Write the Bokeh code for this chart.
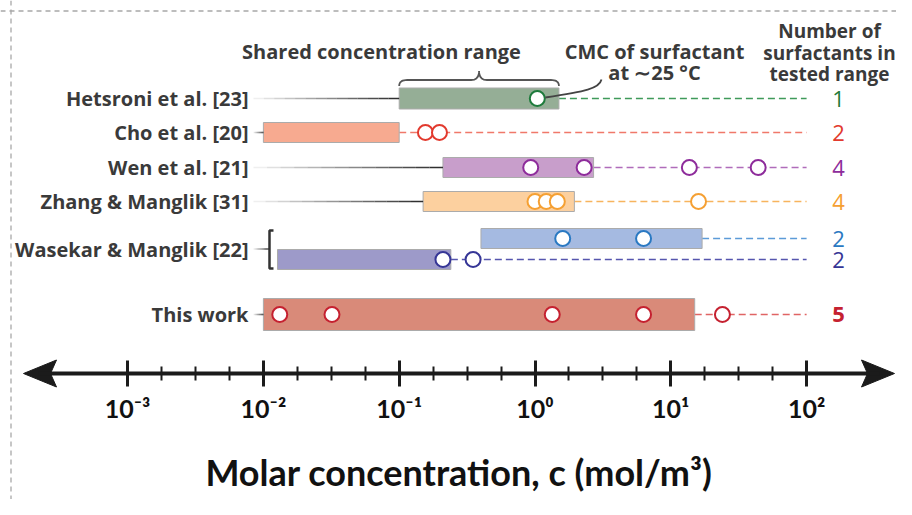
import numpy as np
from bokeh.plotting import figure
from bokeh.models import Range1d, LogAxis, FixedTicker, Span
from bokeh.core.properties import value
from bokeh.embed import file_html
from bokeh.resources import INLINE

# ---------------- data ----------------
studies = ["Hetsroni et al. [23]", "Cho et al. [20]", "Wen et al. [21]",
           "Zhang & Manglik [31]", "Wasekar & Manglik [22]",
           "Wasekar & Manglik [22]", "This work"]
range_low = [0.10, 0.010, 0.21, 0.15, 0.40, 0.0127, 0.010]
range_high = [1.5, 0.10, 2.7, 1.95, 17.0, 0.24, 15.0]
cmc_hetsroni = [1.04]
cmc_cho = [0.156, 0.198]
cmc_wen = [0.93, 2.3, 13.7, 44.0]
cmc_zhang = [1.0, 1.21, 1.46, 16.0]
cmc_wasekar_a = [1.6, 6.3]
cmc_wasekar_b = [0.21, 0.35]
cmc_this_work = [0.0132, 0.032, 1.34, 6.3, 24.0]
cmc_groups = [cmc_hetsroni, cmc_cho, cmc_wen, cmc_zhang,
              cmc_wasekar_a, cmc_wasekar_b, cmc_this_work]
n_surfactants = [1, 2, 4, 4, 2, 2, 5]
tick_values = [1e-3, 1e-2, 1e-1, 1e0, 1e1, 1e2]
tick_labels = ["10⁻³", "10⁻²", "10⁻¹", "10⁰", "10¹", "10²"]
tested_upper = 100.0

# ---------------- styles / layout ----------------
bar_fill = ["#95AE96", "#F7AA90", "#C89ECB", "#FCD09F", "#A5BAE1", "#9D9AC9", "#D98A79"]
mark_color = ["#1E7B3C", "#E23A2E", "#8E2C9B", "#F5A033", "#2A79C2", "#363696", "#C52130"]
dash_color = ["#3F9A5A", "#F0786A", "#B06CBA", "#F7B45E", "#5C9BD8", "#5656AE", "#E06464"]
row_y = [98, 132, 167, 201, 238, 259, 314]
bar_h = [21, 20, 20, 20, 20, 20, 32]

W, H = 896, 499
DPX = 135.8                        # pixels per decade
X0 = -3 - 127.1 / DPX              # log10 at left edge
X1 = X0 + W / DPX                  # log10 at right edge


def xpix(px):
    """horizontal pixel -> data x"""
    return 10 ** (X0 + px / DPX)


def shift(x, dpx):
    return 10 ** (np.log10(x) + dpx / DPX)


TXT = "#3a3a3a"
FONT = value("Open Sans")

p = figure(width=W, height=H, x_axis_type="log",
           x_range=Range1d(10 ** X0, 10 ** X1), y_range=Range1d(H, 0),
           x_axis_location=None, y_axis_location=None,
           toolbar_location=None, output_backend="svg", min_border=0,
           outline_line_color=None, background_fill_color="white",
           border_fill_color="white")
p.grid.grid_line_color = None

# dashed page border
p.add_layout(Span(location=xpix(10.5), dimension="height", line_color="#a8a8a8",
                  line_dash="5 4", line_width=1.3))
p.add_layout(Span(location=10.5, dimension="width", line_color="#a8a8a8",
                  line_dash="5 4", line_width=1.3))

# dashed lines from range end to tested upper limit
p.segment(x0=range_high, y0=row_y, x1=[tested_upper] * len(row_y), y1=row_y,
          line_color=dash_color, line_dash="7 4", line_width=1.6)

# bars
p.hbar(y=row_y, left=range_low, right=range_high, height=bar_h,
       fill_color=bar_fill, line_color="#ababab", line_width=1)

# CMC markers
cx, cy, cc = [], [], []
for grp, yy, col in zip(cmc_groups, row_y, mark_color):
    for v in grp:
        cx.append(v)
        cy.append(yy)
        cc.append(col)
p.scatter(x=cx, y=cy, marker="circle", size=15, fill_color="white",
          line_color=cc, line_width=2)

# row labels + fading connector lines
label_end_x = xpix(248)
line_start_x = xpix(253)
uniq = []
for s in studies:
    if s not in uniq:
        uniq.append(s)
lab_y = []
for s in uniq:
    idx = [i for i, t in enumerate(studies) if t == s]
    ys = [row_y[i] for i in idx]
    yc = float(np.mean(ys))
    lab_y.append(yc)
    low = min(range_low[i] for i in idx)
    if len(idx) > 1:
        bx = shift(low, -8)
        top = min(row_y[i] - bar_h[i] / 2 for i in idx) + 2
        bot = max(row_y[i] + bar_h[i] / 2 for i in idx) - 1
        sx = shift(bx, 4)
        p.line(x=[sx, bx, bx, sx], y=[top, top, bot, bot], line_color="#333333",
               line_width=2.5)
        end = bx
    else:
        end = low
    n = 14
    l0, l1 = np.log10(line_start_x), np.log10(end)
    edges = 10 ** np.linspace(l0, l1, n + 1)
    alphas = np.linspace(0.08, 1.0, n)
    p.segment(x0=edges[:-1], x1=edges[1:], y0=[yc] * n, y1=[yc] * n,
              line_color="#303030", line_alpha=alphas, line_width=1.7)

p.text(x=[label_end_x] * len(uniq), y=lab_y, text=uniq, text_font=FONT,
       text_font_style="bold", text_font_size="20px", text_color=TXT,
       text_align="right", text_baseline="middle")

# numbers of surfactants
num_x = xpix(838)
p.text(x=[num_x] * 6, y=row_y[:6], text=[str(n) for n in n_surfactants[:6]],
       text_font=FONT, text_font_size="22px", text_color=mark_color[:6],
       text_align="center", text_baseline="middle")
p.text(x=[num_x], y=row_y[6:], text=[str(n_surfactants[6])], text_font=FONT,
       text_font_style="bold", text_font_size="22px", text_color=mark_color[6:],
       text_align="center", text_baseline="middle")

# header texts
p.text(x=[xpix(829)] * 3, y=[30, 52, 73],
       text=["Number of", "surfactants in", "tested range"], text_font=FONT,
       text_font_style="bold", text_font_size="19px", text_color=TXT,
       text_align="center", text_baseline="middle")
p.text(x=[xpix(381)], y=[51], text=["Shared concentration range"], text_font=FONT,
       text_font_style="bold", text_font_size="20px", text_color=TXT,
       text_align="center", text_baseline="middle")
p.text(x=[xpix(654)] * 2, y=[51, 72], text=["CMC of surfactant", "at ∼25 °C"],
       text_font=FONT, text_font_style="bold", text_font_size="20px",
       text_color=TXT, text_align="center", text_baseline="middle")

# brace over the shared range (Hetsroni bar)
uL = np.log10(range_low[0]) * DPX
uR = np.log10(range_high[0]) * DPX
uM = (uL + uR) / 2
yb = row_y[0] - bar_h[0] / 2


def qb(p0, c, p1, n=10):
    t = np.linspace(0, 1, n)[:, None]
    return (1 - t) ** 2 * np.array(p0) + 2 * (1 - t) * t * np.array(c) + t ** 2 * np.array(p1)


r = 8
y_end, y_line, y_tip = yb - 2, yb - 8, yb - 17
pts = np.vstack([
    qb((uL, y_end), (uL, y_line), (uL + r, y_line)),
    qb((uM - r, y_line), (uM, y_line), (uM, y_tip)),
    qb((uM, y_tip), (uM, y_line), (uM + r, y_line)),
    qb((uR - r, y_line), (uR, y_line), (uR, y_end)),
])
p.line(x=10 ** (pts[:, 0] / DPX), y=pts[:, 1], line_color="#555555", line_width=1.8)

# leader from CMC marker to its caption
c0 = cmc_hetsroni[0]
p.bezier(x0=[shift(c0, 8)], y0=[row_y[0] - 1], x1=[xpix(601)], y1=[79],
         cx0=[xpix(585)], cy0=[91], cx1=[xpix(599)], cy1=[88],
         line_color="#444444", line_width=1.8)

# axis with arrowheads
AXIS_Y = 373
tipL, tipR = xpix(23), xpix(894)
hl, notch, hw = 33, 27, 13.5
lL, lR = np.log10(tipL) * DPX, np.log10(tipR) * DPX
ax_xs = [10 ** (np.array([lL, lL + hl, lL + notch, lL + hl]) / DPX),
         10 ** (np.array([lR, lR - hl, lR - notch, lR - hl]) / DPX)]
ax_ys = [[AXIS_Y, AXIS_Y - hw, AXIS_Y, AXIS_Y + hw]] * 2
p.patches(xs=ax_xs, ys=ax_ys, fill_color="#1b1b1b", line_color="#1b1b1b")

minor = [10 ** (k + f) for k in range(-3, 2) for f in (0.25, 0.5, 0.75)]
ax = LogAxis(ticker=FixedTicker(ticks=tick_values, minor_ticks=minor),
             fixed_location=AXIS_Y, bounds=(shift(tipL, 15), shift(tipR, -15)),
             axis_line_width=4, axis_line_color="#1b1b1b",
             major_tick_in=13, major_tick_out=13, minor_tick_in=7, minor_tick_out=7,
             major_tick_line_width=3, minor_tick_line_width=2,
             major_tick_line_color="#1b1b1b", minor_tick_line_color="#1b1b1b",
             major_label_overrides=dict(zip(tick_values, tick_labels)),
             major_label_text_font="Lato", major_label_text_font_style="bold",
             major_label_text_font_size="25px", major_label_text_color="#111111",
             major_label_standoff=6,
             axis_label="Molar concentration, c (mol/m³)",
             axis_label_text_font="Lato", axis_label_text_font_style="bold",
             axis_label_text_font_size="36px", axis_label_text_color="#111111",
             axis_label_standoff=24)
p.add_layout(ax, "below")

open("out.html", "w").write(file_html(p, INLINE))
